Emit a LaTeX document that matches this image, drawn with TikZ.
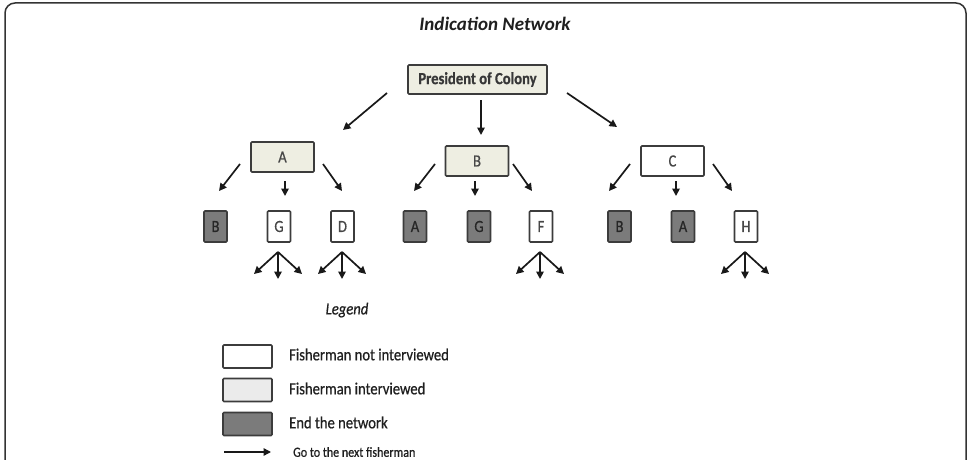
\documentclass[tikz,border=0pt]{standalone}
\usepackage{fontspec}
\setmainfont{Carlito}
\newfontfamily\condfont{Carlito}[FakeStretch=0.86,FakeBold=0.6]
\usetikzlibrary{arrows.meta}
\definecolor{beige}{HTML}{EEEEE2}
\definecolor{lgray}{HTML}{EBEBEB}
\definecolor{endgray}{HTML}{7B7B7B}
\definecolor{edge}{HTML}{3C3C3C}
\begin{document}
\begin{tikzpicture}[x=1pt,y=-1pt,
  box/.style={draw=edge, line width=1.7pt, rounded corners=1pt, inner sep=0pt,
    font=\condfont\fontsize{17}{19}\selectfont, text=black!72},
  wide/.style={box, minimum width=63pt, minimum height=30pt},
  tall/.style={box, minimum width=23pt, minimum height=31pt},
  intv/.style={fill=beige},
  notv/.style={fill=white},
  endn/.style={fill=endgray, text=black!85},
  arr/.style={-{Triangle[length=7.5pt,width=7.5pt]}, line width=1.7pt, black!90},
  legbox/.style={draw=edge, line width=1.7pt, rounded corners=1pt, minimum width=49pt, minimum height=23pt, inner sep=0pt},
  legtext/.style={anchor=west, inner sep=0pt, font=\condfont\fontsize{17}{19}\selectfont, text=black!88}
]
\useasboundingbox (0,0) rectangle (967,460);
\clip (0,0) rectangle (967,460);
\fill[white] (0,0) rectangle (967,460);
% frame
\draw[line width=1.5pt, black!80, rounded corners=10pt] (5,480) -- (5,3) -- (966,3) -- (966,480);

% title
\node[font=\fontsize{19}{21}\selectfont\bfseries\itshape, text=black!88] (title) at (495,24) {Indication Network};

% top
\node[box, intv, minimum width=139pt, minimum height=29pt, font=\condfont\fontsize{17}{19}\selectfont\bfseries, text=black!78] (P) at (477.5,79.5) {President of Colony};

% level 1
\node[wide, intv] (A) at (282.5,157) {A};
\node[wide, intv] (B) at (477,161) {B};
\node[wide, notv] (C) at (672.5,161) {C};

% level 2
\node[tall, endn] (AB) at (215.5,226.5) {B};
\node[tall, notv] (AG) at (279,226.5) {G};
\node[tall, notv] (AD) at (342.5,226.5) {D};
\node[tall, endn] (BA) at (415,226.5) {A};
\node[tall, endn] (BG) at (479,226.5) {G};
\node[tall, notv] (BF) at (541,226.5) {F};
\node[tall, endn] (CB) at (619.5,226.5) {B};
\node[tall, endn] (CA) at (683,226.5) {A};
\node[tall, notv] (CH) at (746,226.5) {H};

% arrows from President
\coordinate (p1s) at (387,93);  \coordinate (p1e) at (343,130);
\coordinate (p2s) at (481,100); \coordinate (p2e) at (481,135);
\coordinate (p3s) at (567,93);  \coordinate (p3e) at (617,127);
\draw[arr] (p1s) -- (p1e);
\draw[arr] (p2s) -- (p2e);
\draw[arr] (p3s) -- (p3e);

% arrows from level 1
\foreach \n/\lx/\mx/\rx in {A/240/285/323, B/435/475/513, C/630/676/713}{
  \coordinate (\n ls) at (\lx,164);       \coordinate (\n le) at (\lx-21,191);
  \coordinate (\n ms) at (\mx,181);       \coordinate (\n me) at (\mx,196);
  \coordinate (\n rs) at (\rx,164);       \coordinate (\n re) at (\rx+19,191);
  \draw[arr] (\n ls) -- (\n le);
  \draw[arr] (\n ms) -- (\n me);
  \draw[arr] (\n rs) -- (\n re);
}

% fans below open nodes
\foreach \n/\cx in {AG/278, AD/342, BF/540, CH/745}{
  \coordinate (\n f) at (\cx,252);
  \coordinate (\n fl) at (\cx-24,274);
  \coordinate (\n fm) at (\cx,279);
  \coordinate (\n fr) at (\cx+24,274);
  \draw[arr] (\n f) -- (\n fl);
  \draw[arr] (\n f) -- (\n fm);
  \draw[arr] (\n f) -- (\n fr);
}

% legend
\node[font=\condfont\fontsize{17}{19}\selectfont\itshape, text=black!88] (legend) at (347,310) {Legend};
\node[legbox, fill=white] (L1) at (247.5,356.5) {};
\node[legbox, fill=lgray] (L2) at (247.5,390) {};
\node[legbox, fill=endgray] (L3) at (247.5,424) {};
\node[legtext] (T1) at (289,354.5) {Fisherman not interviewed};
\node[legtext] (T2) at (289,388.5) {Fisherman interviewed};
\node[legtext] (T3) at (289,422.5) {End the network};
\coordinate (L4s) at (224,452);
\coordinate (L4e) at (271,452);
\draw[arr, line width=1.4pt] (L4s) -- (L4e);
\node[legtext, font=\condfont\fontsize{14}{16}\selectfont] (T4) at (293,452) {Go to the next fisherman};
\end{tikzpicture}
\end{document}
